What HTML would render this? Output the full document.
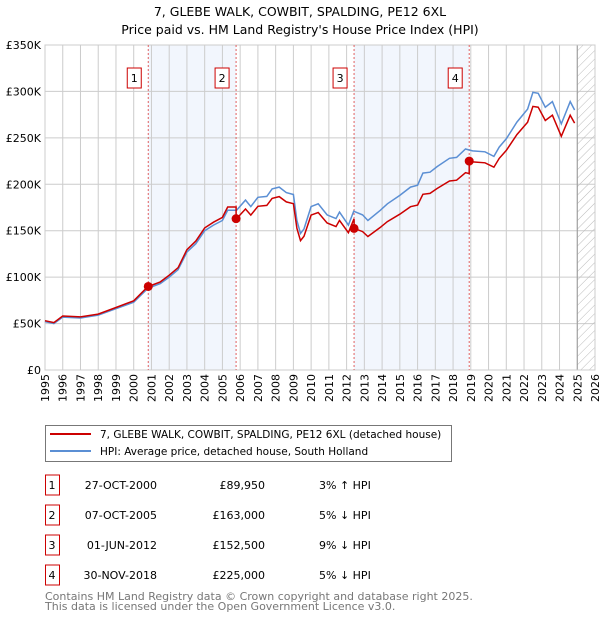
<!DOCTYPE html>
<html><head><meta charset="utf-8"><style>
body{margin:0;background:#fff;font-family:"Liberation Sans","DejaVu Sans",sans-serif;}
svg text{font-family:"DejaVu Sans","Liberation Sans",sans-serif;}
</style></head><body>
<svg id="chart" width="600" height="620" xmlns="http://www.w3.org/2000/svg">
<defs><pattern id="hatch" width="6" height="6" patternUnits="userSpaceOnUse" patternTransform="rotate(45)"><line x1="0" y1="0" x2="0" y2="6" stroke="#bbb" stroke-width="1"/></pattern></defs>
<text x="300" y="16" text-anchor="middle" font-size="12.5">7, GLEBE WALK, COWBIT, SPALDING, PE12 6XL</text>
<text x="300" y="34" text-anchor="middle" font-size="12.5">Price paid vs. HM Land Registry's House Price Index (HPI)</text>
<g id="plot"></g>
<g>
<rect x="45.5" y="425.5" width="406" height="36" fill="#fff" stroke="#777"/>
<line x1="50" y1="434" x2="91" y2="434" stroke="#cc0000" stroke-width="2"/>
<text x="100" y="438" font-size="10.5">7, GLEBE WALK, COWBIT, SPALDING, PE12 6XL (detached house)</text>
<line x1="50" y1="451" x2="91" y2="451" stroke="#5b8fd4" stroke-width="2"/>
<text x="100" y="455" font-size="10.5">HPI: Average price, detached house, South Holland</text>
</g>
<g id="table" font-size="11"></g>
<text x="45" y="600" font-size="11" fill="#777">Contains HM Land Registry data © Crown copyright and database right 2025.</text>
<text x="45" y="610" font-size="11" fill="#777">This data is licensed under the Open Government Licence v3.0.</text>
</svg>
<script>
const hpiYears=[1995.0,1995.5,1996.0,1997.0,1998.0,1999.0,2000.0,2000.8,2001.5,2002.0,2002.5,2003.0,2003.5,2004.0,2004.5,2005.0,2005.3,2005.8,2006.3,2006.6,2007.0,2007.5,2007.8,2008.2,2008.6,2009.0,2009.2,2009.4,2009.6,2010.0,2010.4,2010.9,2011.4,2011.6,2012.1,2012.4,2012.9,2013.2,2013.9,2014.3,2015.0,2015.6,2016.0,2016.3,2016.7,2017.1,2017.8,2018.2,2018.7,2019.1,2019.8,2020.3,2020.6,2021.0,2021.6,2022.2,2022.5,2022.8,2023.2,2023.6,2024.1,2024.6,2024.85];
const hpiValues=[52,50,57,56,59,66,73,88,93,100,108,127,136,150,156,161,172,172,183,176,186,187,195,197,191,189,161,147,152,176,179,167,163,170,156,171,167,161,172,179,188,197,199,212,213,219,228,229,238,236,235,230,240,249,267,281,299,298,283,289,265,289,280];
const saleLabels=["1","2","3","4"];
const saleDates=[2000.82,2005.77,2012.42,2018.91];
const salePrices=[89.95,163,152.5,225];
const saleDateText=["27-OCT-2000","07-OCT-2005","01-JUN-2012","30-NOV-2018"];
const salePriceText=["£89,950","£163,000","£152,500","£225,000"];
const saleHpiText=["3% ↑ HPI","5% ↓ HPI","9% ↓ HPI","5% ↓ HPI"];
const yTicks=[0,50,100,150,200,250,300,350];
const yTickLabels=["£0","£50K","£100K","£150K","£200K","£250K","£300K","£350K"];
const xTicks=[1995,1996,1997,1998,1999,2000,2001,2002,2003,2004,2005,2006,2007,2008,2009,2010,2011,2012,2013,2014,2015,2016,2017,2018,2019,2020,2021,2022,2023,2024,2025,2026];

const X0=45,X1=595,Y0=370,Y1=45;
const xs=y=>X0+(y-1995)/31*(X1-X0);
const ys=v=>Y0-v/350*(Y0-Y1);
const NS="http://www.w3.org/2000/svg";
const plot=document.getElementById('plot');
function mk(tag,attrs,parent){const e=document.createElementNS(NS,tag);for(const k in attrs)e.setAttribute(k,attrs[k]);(parent||plot).appendChild(e);return e;}
function hpiAt(t){for(let i=0;i<hpiYears.length-1;i++){if(t>=hpiYears[i]&&t<=hpiYears[i+1]){const f=(t-hpiYears[i])/(hpiYears[i+1]-hpiYears[i]);return hpiValues[i]+f*(hpiValues[i+1]-hpiValues[i]);}}return hpiValues[hpiValues.length-1];}

for(let i=0;i<saleDates.length;i+=2){
 const r=mk('rect',{x:xs(saleDates[i]),y:Y1,width:xs(saleDates[i+1])-xs(saleDates[i]),height:Y0-Y1,fill:'#f2f6fd'});
 
 
}
xTicks.forEach(t=>{const l=mk('line',{x1:xs(t),x2:xs(t),y1:Y1,y2:Y0,stroke:'#ccc','stroke-width':1});
 
 
 const tx=mk('text',{x:0,y:0,'font-size':11,'text-anchor':'end',transform:`translate(${xs(t)+4},${Y0+4}) rotate(-90)`});tx.textContent=t;
 
 
});
yTicks.forEach((v,i)=>{const l=mk('line',{x1:X0,x2:X1,y1:ys(v),y2:ys(v),stroke:'#ccc','stroke-width':1});
 
 
 const tx=mk('text',{x:X0-4,y:ys(v)+4,'font-size':11,'text-anchor':'end'});tx.textContent=yTickLabels[i];
 
 
});
const h=mk('rect',{x:xs(2025),y:Y1,width:X1-xs(2025),height:Y0-Y1,fill:'url(#hatch)'});


const vl=mk('line',{x1:xs(2025),x2:xs(2025),y1:Y1,y2:Y0,stroke:'#999','stroke-width':1});


const fr=mk('rect',{x:X0,y:Y1,width:X1-X0,height:Y0-Y1,fill:'none',stroke:'#ccc'});


saleDates.forEach((d,i)=>{
 const l=mk('line',{x1:xs(d),x2:xs(d),y1:Y1,y2:Y0,stroke:'#e06060','stroke-width':1,'stroke-dasharray':'2,2'});
 
 
 const b=mk('rect',{x:xs(d)-21,y:68,width:14,height:20,fill:'#fff',stroke:'#cc0000'});
 
 
 const t=mk('text',{x:xs(d)-14,y:82,'font-size':11,'text-anchor':'middle'});t.textContent=saleLabels[i];
 
 
});
const hp=hpiYears.map((y,i)=>`${xs(y).toFixed(1)},${ys(hpiValues[i]).toFixed(1)}`).join(' ');
const hl=mk('polyline',{points:hp,fill:'none',stroke:'#5b8fd4','stroke-width':1.5});


const ratios=saleDates.map((d,i)=>salePrices[i]/hpiAt(d));
const pts=[];
for(let i=0;i<hpiYears.length;i++){
 const t=hpiYears[i];
 for(let k=0;k<saleDates.length;k++){ if(saleDates[k]>(i?hpiYears[i-1]:0)&&saleDates[k]<=t){const hv=hpiAt(saleDates[k]);pts.push([saleDates[k],hv*(k?ratios[k-1]:ratios[0])]);pts.push([saleDates[k],salePrices[k]]);} }
 let k=0;for(let j=0;j<saleDates.length;j++)if(saleDates[j]<=t)k=j;
 pts.push([t,hpiValues[i]*ratios[k]]);
}
const rl=mk('polyline',{points:pts.map(p=>`${xs(p[0]).toFixed(1)},${ys(p[1]).toFixed(1)}`).join(' '),fill:'none',stroke:'#cc0000','stroke-width':1.5});


saleDates.forEach((d,i)=>{const c=mk('circle',{cx:xs(d),cy:ys(salePrices[i]),r:4.5,fill:'#cc0000'});
 
 
});
const tb=document.getElementById('table');
saleDates.forEach((d,i)=>{const y=483+i*30;
 const b=mk('rect',{x:45.5,y:y-8,width:14,height:20,fill:'#fff',stroke:'#cc0000'},tb);
 
 
 const cols=[[52,saleLabels[i],'middle'],[157,saleDateText[i],'end'],[265,salePriceText[i],'end'],[319,saleHpiText[i],'start']];
 cols.forEach(c=>{const t=mk('text',{x:c[0],y:y+6,'font-size':11,'text-anchor':c[2]},tb);t.textContent=c[1];
  
  });
});
</script>
</body></html>
